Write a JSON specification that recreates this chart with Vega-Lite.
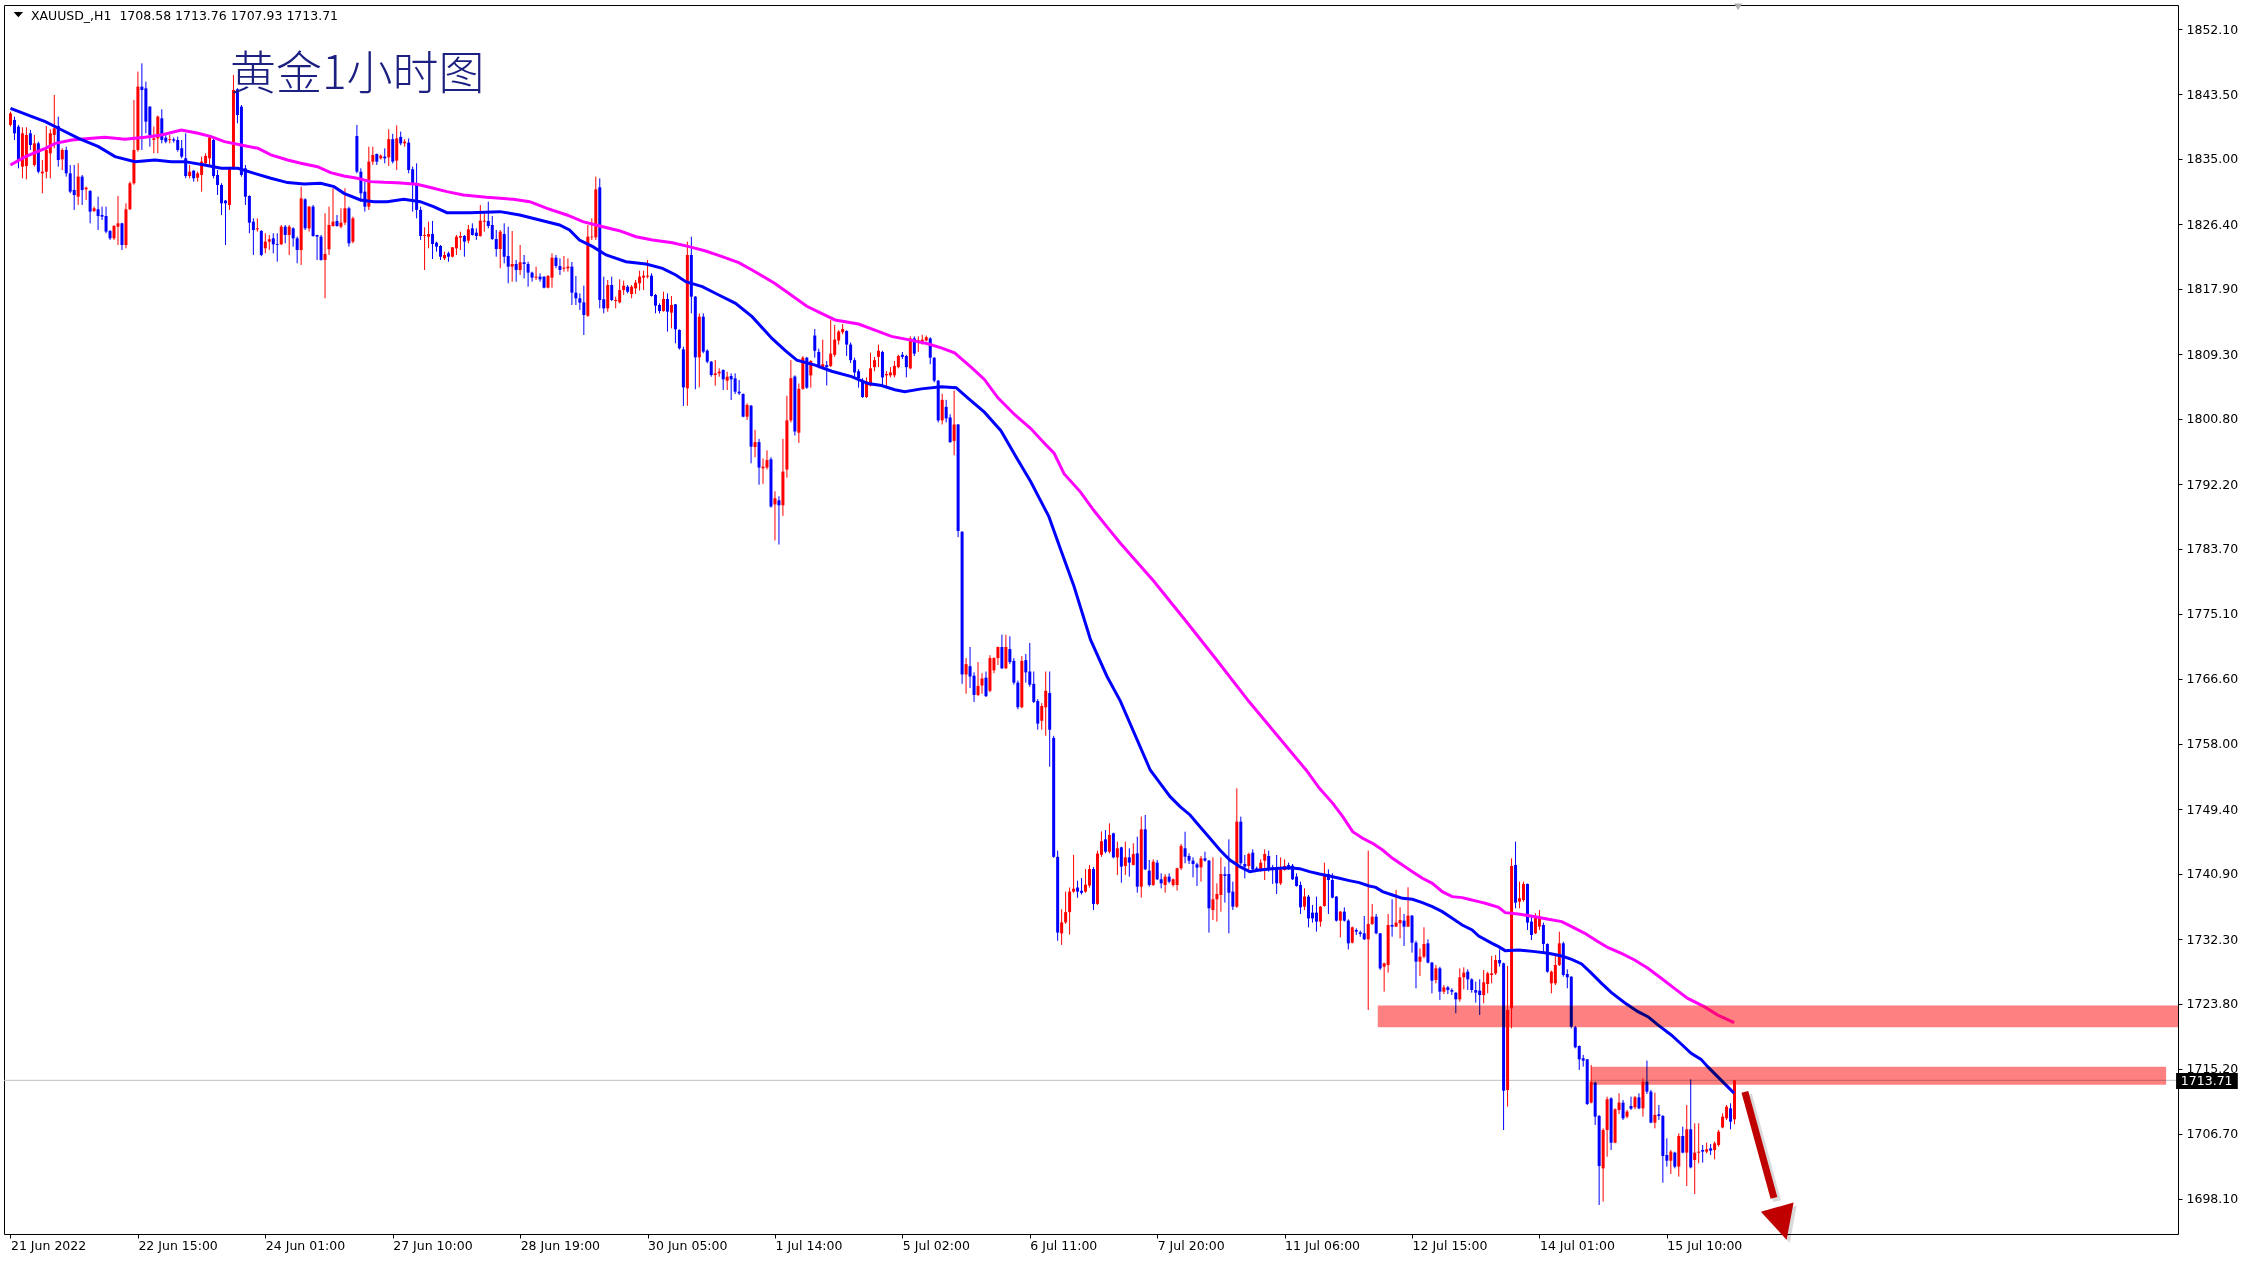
{
"$schema":"https://vega.github.io/schema/vega-lite/v6.json",
"width":2174,"height":1229,
"autosize":{"type":"none"},
"padding":{"left":4,"top":5,"right":75,"bottom":29},
"background":"#ffffff",
"config":{"view":{"stroke":"#000000","strokeWidth":1},"axis":{"grid":false,"domain":false,"labelFont":"DejaVu Sans","labelFontSize":12.5,"labelColor":"#000000","tickColor":"#000000","tickSize":4,"tickWidth":1}},
"datasets":{
"candles":[
{"i":0,"o":1839.47,"h":1841.22,"l":1839.25,"c":1841.00},
{"i":1,"o":1840.13,"h":1840.56,"l":1837.49,"c":1838.37},
{"i":2,"o":1839.25,"h":1839.47,"l":1833.76,"c":1834.86},
{"i":3,"o":1833.98,"h":1839.16,"l":1832.45,"c":1838.37},
{"i":4,"o":1834.07,"h":1839.16,"l":1832.31,"c":1838.15},
{"i":5,"o":1838.37,"h":1838.81,"l":1836.18,"c":1836.83},
{"i":6,"o":1834.20,"h":1838.15,"l":1833.98,"c":1837.05},
{"i":7,"o":1837.05,"h":1837.27,"l":1833.10,"c":1833.32},
{"i":8,"o":1833.10,"h":1834.86,"l":1830.47,"c":1833.32},
{"i":9,"o":1833.32,"h":1839.34,"l":1832.45,"c":1836.18},
{"i":10,"o":1835.74,"h":1838.90,"l":1832.45,"c":1838.37},
{"i":11,"o":1838.15,"h":1843.42,"l":1836.40,"c":1839.03},
{"i":12,"o":1839.34,"h":1840.56,"l":1833.98,"c":1834.86},
{"i":13,"o":1834.95,"h":1836.40,"l":1833.54,"c":1836.18},
{"i":14,"o":1836.18,"h":1836.61,"l":1832.67,"c":1833.10},
{"i":15,"o":1833.10,"h":1834.20,"l":1830.47,"c":1830.69},
{"i":16,"o":1830.91,"h":1834.20,"l":1828.28,"c":1830.25},
{"i":17,"o":1830.03,"h":1834.42,"l":1828.94,"c":1832.67},
{"i":18,"o":1832.67,"h":1832.89,"l":1828.94,"c":1830.91},
{"i":19,"o":1831.00,"h":1831.35,"l":1829.59,"c":1831.22},
{"i":20,"o":1830.78,"h":1830.90,"l":1826.52,"c":1828.06},
{"i":21,"o":1828.15,"h":1828.72,"l":1828.00,"c":1828.50},
{"i":22,"o":1828.37,"h":1830.03,"l":1825.64,"c":1827.49},
{"i":23,"o":1827.62,"h":1828.72,"l":1826.96,"c":1827.40},
{"i":24,"o":1827.49,"h":1828.72,"l":1825.21,"c":1825.43},
{"i":25,"o":1825.51,"h":1825.64,"l":1824.33,"c":1824.55},
{"i":26,"o":1824.55,"h":1826.30,"l":1824.33,"c":1826.17},
{"i":27,"o":1826.08,"h":1830.12,"l":1823.67,"c":1826.52},
{"i":28,"o":1826.52,"h":1826.60,"l":1823.01,"c":1823.67},
{"i":29,"o":1823.67,"h":1829.16,"l":1823.23,"c":1828.37},
{"i":30,"o":1828.37,"h":1832.01,"l":1828.28,"c":1831.79},
{"i":31,"o":1831.79,"h":1842.76,"l":1831.60,"c":1836.18},
{"i":32,"o":1836.18,"h":1846.49,"l":1835.96,"c":1844.51},
{"i":33,"o":1844.51,"h":1847.58,"l":1836.18,"c":1844.07},
{"i":34,"o":1844.29,"h":1845.17,"l":1838.37,"c":1839.91},
{"i":35,"o":1841.88,"h":1841.95,"l":1836.61,"c":1838.15},
{"i":36,"o":1837.49,"h":1839.25,"l":1835.74,"c":1837.71},
{"i":37,"o":1837.71,"h":1840.70,"l":1835.74,"c":1840.56},
{"i":38,"o":1840.34,"h":1841.53,"l":1837.05,"c":1837.49},
{"i":39,"o":1837.80,"h":1838.37,"l":1837.05,"c":1837.27},
{"i":40,"o":1837.50,"h":1838.15,"l":1837.05,"c":1837.62},
{"i":41,"o":1837.58,"h":1837.84,"l":1837.14,"c":1837.40},
{"i":42,"o":1837.49,"h":1837.93,"l":1835.96,"c":1836.18},
{"i":43,"o":1836.40,"h":1837.49,"l":1835.08,"c":1835.30},
{"i":44,"o":1835.08,"h":1838.37,"l":1832.45,"c":1832.75},
{"i":45,"o":1832.75,"h":1834.20,"l":1832.45,"c":1833.32},
{"i":46,"o":1833.46,"h":1833.50,"l":1832.01,"c":1832.45},
{"i":47,"o":1832.53,"h":1833.32,"l":1832.01,"c":1833.10},
{"i":48,"o":1832.89,"h":1835.30,"l":1830.69,"c":1834.64},
{"i":49,"o":1834.42,"h":1835.74,"l":1834.20,"c":1835.39},
{"i":50,"o":1835.08,"h":1838.15,"l":1834.20,"c":1837.84},
{"i":51,"o":1837.49,"h":1837.84,"l":1832.45,"c":1832.75},
{"i":52,"o":1832.89,"h":1833.54,"l":1830.25,"c":1831.57},
{"i":53,"o":1831.57,"h":1831.79,"l":1827.62,"c":1829.16},
{"i":54,"o":1829.51,"h":1829.59,"l":1823.67,"c":1829.16},
{"i":55,"o":1828.94,"h":1833.98,"l":1828.28,"c":1833.76},
{"i":56,"o":1833.76,"h":1846.05,"l":1833.60,"c":1844.07},
{"i":57,"o":1844.16,"h":1844.30,"l":1839.69,"c":1840.78},
{"i":58,"o":1841.88,"h":1842.10,"l":1832.67,"c":1832.89},
{"i":59,"o":1833.76,"h":1834.20,"l":1828.94,"c":1830.03},
{"i":60,"o":1830.12,"h":1830.20,"l":1825.21,"c":1826.61},
{"i":61,"o":1826.74,"h":1827.18,"l":1822.36,"c":1825.64},
{"i":62,"o":1825.73,"h":1827.18,"l":1825.43,"c":1825.86},
{"i":63,"o":1825.51,"h":1825.64,"l":1822.20,"c":1822.36},
{"i":64,"o":1823.23,"h":1825.21,"l":1822.57,"c":1824.11},
{"i":65,"o":1824.11,"h":1824.99,"l":1823.01,"c":1824.42},
{"i":66,"o":1824.55,"h":1825.21,"l":1822.57,"c":1823.76},
{"i":67,"o":1823.80,"h":1825.21,"l":1821.48,"c":1823.70},
{"i":68,"o":1823.76,"h":1826.30,"l":1823.67,"c":1826.08},
{"i":69,"o":1826.08,"h":1826.30,"l":1823.89,"c":1824.99},
{"i":70,"o":1824.99,"h":1826.30,"l":1822.36,"c":1826.08},
{"i":71,"o":1825.86,"h":1826.00,"l":1823.45,"c":1824.55},
{"i":72,"o":1824.55,"h":1824.77,"l":1821.26,"c":1823.01},
{"i":73,"o":1823.01,"h":1831.35,"l":1821.04,"c":1829.81},
{"i":74,"o":1829.68,"h":1829.81,"l":1825.64,"c":1825.86},
{"i":75,"o":1825.86,"h":1828.80,"l":1825.43,"c":1828.72},
{"i":76,"o":1828.72,"h":1828.94,"l":1824.75,"c":1824.85},
{"i":77,"o":1824.99,"h":1825.00,"l":1821.70,"c":1824.77},
{"i":78,"o":1824.77,"h":1824.99,"l":1821.61,"c":1821.70},
{"i":79,"o":1821.70,"h":1827.84,"l":1816.65,"c":1822.49},
{"i":80,"o":1823.10,"h":1828.72,"l":1822.36,"c":1826.30},
{"i":81,"o":1826.17,"h":1831.13,"l":1826.08,"c":1826.74},
{"i":82,"o":1826.83,"h":1827.62,"l":1826.08,"c":1826.17},
{"i":83,"o":1826.08,"h":1828.50,"l":1825.86,"c":1826.61},
{"i":84,"o":1826.61,"h":1831.13,"l":1826.30,"c":1828.50},
{"i":85,"o":1828.50,"h":1828.72,"l":1823.45,"c":1823.89},
{"i":86,"o":1824.11,"h":1827.40,"l":1823.89,"c":1827.18},
{"i":87,"o":1838.02,"h":1839.47,"l":1833.10,"c":1833.32},
{"i":88,"o":1833.32,"h":1833.76,"l":1829.37,"c":1830.47},
{"i":89,"o":1830.69,"h":1832.01,"l":1828.06,"c":1828.72},
{"i":90,"o":1828.72,"h":1836.61,"l":1828.28,"c":1834.64},
{"i":91,"o":1834.64,"h":1836.61,"l":1834.20,"c":1835.52},
{"i":92,"o":1835.65,"h":1835.70,"l":1834.20,"c":1834.64},
{"i":93,"o":1835.08,"h":1835.60,"l":1834.90,"c":1835.43},
{"i":94,"o":1835.30,"h":1836.39,"l":1834.42,"c":1835.08},
{"i":95,"o":1835.21,"h":1838.90,"l":1834.07,"c":1837.60},
{"i":96,"o":1837.60,"h":1838.30,"l":1834.40,"c":1834.64},
{"i":97,"o":1834.77,"h":1839.40,"l":1833.54,"c":1837.70},
{"i":98,"o":1837.90,"h":1838.60,"l":1836.80,"c":1837.05},
{"i":99,"o":1837.05,"h":1837.60,"l":1836.60,"c":1837.27},
{"i":100,"o":1837.14,"h":1837.70,"l":1833.10,"c":1833.54},
{"i":101,"o":1833.63,"h":1833.98,"l":1828.06,"c":1831.79},
{"i":102,"o":1831.79,"h":1834.42,"l":1827.18,"c":1828.28},
{"i":103,"o":1828.28,"h":1828.71,"l":1824.33,"c":1824.85},
{"i":104,"o":1824.85,"h":1825.99,"l":1820.38,"c":1824.98},
{"i":105,"o":1824.76,"h":1826.74,"l":1823.23,"c":1825.12},
{"i":106,"o":1825.12,"h":1826.83,"l":1821.82,"c":1823.80},
{"i":107,"o":1823.97,"h":1824.11,"l":1822.79,"c":1823.45},
{"i":108,"o":1823.54,"h":1823.67,"l":1821.69,"c":1822.13},
{"i":109,"o":1821.91,"h":1822.79,"l":1821.69,"c":1822.35},
{"i":110,"o":1822.57,"h":1822.79,"l":1821.47,"c":1822.13},
{"i":111,"o":1822.13,"h":1823.40,"l":1822.04,"c":1823.36},
{"i":112,"o":1823.23,"h":1824.98,"l":1822.35,"c":1824.76},
{"i":113,"o":1824.63,"h":1825.42,"l":1823.01,"c":1824.85},
{"i":114,"o":1824.85,"h":1824.98,"l":1822.13,"c":1824.11},
{"i":115,"o":1824.24,"h":1826.30,"l":1823.89,"c":1825.73},
{"i":116,"o":1825.86,"h":1826.52,"l":1824.90,"c":1824.98},
{"i":117,"o":1825.29,"h":1825.86,"l":1824.33,"c":1824.85},
{"i":118,"o":1824.85,"h":1828.93,"l":1824.76,"c":1826.87},
{"i":119,"o":1826.74,"h":1828.06,"l":1825.42,"c":1826.87},
{"i":120,"o":1826.83,"h":1829.37,"l":1825.86,"c":1826.17},
{"i":121,"o":1826.30,"h":1827.49,"l":1824.33,"c":1824.46},
{"i":122,"o":1824.46,"h":1825.64,"l":1822.13,"c":1823.14},
{"i":123,"o":1823.14,"h":1825.64,"l":1820.60,"c":1825.42},
{"i":124,"o":1825.12,"h":1826.52,"l":1821.25,"c":1822.13},
{"i":125,"o":1822.22,"h":1826.08,"l":1818.62,"c":1820.82},
{"i":126,"o":1820.82,"h":1825.51,"l":1818.84,"c":1821.17},
{"i":127,"o":1821.17,"h":1821.69,"l":1818.84,"c":1820.38},
{"i":128,"o":1820.38,"h":1823.67,"l":1819.72,"c":1821.39},
{"i":129,"o":1821.39,"h":1822.35,"l":1819.28,"c":1821.17},
{"i":130,"o":1821.17,"h":1821.47,"l":1818.18,"c":1820.03},
{"i":131,"o":1820.03,"h":1820.16,"l":1818.84,"c":1819.37},
{"i":132,"o":1819.37,"h":1820.82,"l":1819.06,"c":1819.50},
{"i":133,"o":1819.50,"h":1819.94,"l":1818.84,"c":1819.15},
{"i":134,"o":1819.50,"h":1819.55,"l":1817.96,"c":1818.05},
{"i":135,"o":1818.05,"h":1819.72,"l":1817.96,"c":1819.59},
{"i":136,"o":1819.37,"h":1822.57,"l":1818.05,"c":1822.00},
{"i":137,"o":1822.00,"h":1822.35,"l":1820.60,"c":1820.90},
{"i":138,"o":1820.90,"h":1821.91,"l":1819.72,"c":1820.38},
{"i":139,"o":1820.55,"h":1822.22,"l":1820.16,"c":1820.68},
{"i":140,"o":1820.60,"h":1821.91,"l":1820.16,"c":1820.82},
{"i":141,"o":1820.82,"h":1821.43,"l":1815.77,"c":1817.39},
{"i":142,"o":1817.39,"h":1819.59,"l":1815.77,"c":1816.65},
{"i":143,"o":1816.65,"h":1817.30,"l":1815.11,"c":1816.08},
{"i":144,"o":1816.12,"h":1818.31,"l":1811.82,"c":1814.45},
{"i":145,"o":1814.36,"h":1826.30,"l":1814.20,"c":1824.76},
{"i":146,"o":1824.68,"h":1827.18,"l":1824.33,"c":1824.76},
{"i":147,"o":1824.68,"h":1832.66,"l":1824.33,"c":1830.99},
{"i":148,"o":1831.26,"h":1832.44,"l":1815.33,"c":1816.43},
{"i":149,"o":1816.52,"h":1819.50,"l":1814.67,"c":1815.33},
{"i":150,"o":1815.33,"h":1819.06,"l":1814.89,"c":1818.40},
{"i":151,"o":1818.40,"h":1819.50,"l":1816.30,"c":1816.43},
{"i":152,"o":1816.30,"h":1816.87,"l":1815.33,"c":1816.43},
{"i":153,"o":1816.12,"h":1819.15,"l":1815.99,"c":1817.74},
{"i":154,"o":1817.74,"h":1818.97,"l":1817.09,"c":1818.31},
{"i":155,"o":1818.18,"h":1818.40,"l":1817.30,"c":1817.52},
{"i":156,"o":1817.22,"h":1818.40,"l":1816.65,"c":1818.18},
{"i":157,"o":1817.96,"h":1819.06,"l":1817.22,"c":1818.71},
{"i":158,"o":1818.62,"h":1820.29,"l":1817.66,"c":1819.50},
{"i":159,"o":1819.37,"h":1820.29,"l":1817.74,"c":1819.63},
{"i":160,"o":1819.50,"h":1821.69,"l":1819.28,"c":1819.63},
{"i":161,"o":1819.63,"h":1819.94,"l":1816.87,"c":1816.95},
{"i":162,"o":1817.09,"h":1817.22,"l":1814.67,"c":1815.68},
{"i":163,"o":1815.77,"h":1815.99,"l":1814.67,"c":1814.98},
{"i":164,"o":1814.98,"h":1817.52,"l":1814.89,"c":1816.56},
{"i":165,"o":1816.56,"h":1817.30,"l":1812.26,"c":1814.89},
{"i":166,"o":1814.76,"h":1816.95,"l":1812.70,"c":1815.77},
{"i":167,"o":1815.86,"h":1815.90,"l":1810.72,"c":1812.57},
{"i":168,"o":1812.48,"h":1812.57,"l":1809.90,"c":1810.07},
{"i":169,"o":1809.93,"h":1810.28,"l":1802.47,"c":1804.93},
{"i":170,"o":1804.80,"h":1824.11,"l":1802.50,"c":1822.35},
{"i":171,"o":1822.35,"h":1824.76,"l":1814.67,"c":1816.87},
{"i":172,"o":1816.87,"h":1816.95,"l":1804.67,"c":1808.88},
{"i":173,"o":1808.88,"h":1814.67,"l":1804.93,"c":1814.23},
{"i":174,"o":1814.23,"h":1814.67,"l":1809.41,"c":1809.63},
{"i":175,"o":1809.76,"h":1809.93,"l":1808.09,"c":1808.31},
{"i":176,"o":1808.31,"h":1808.40,"l":1806.33,"c":1806.55},
{"i":177,"o":1806.55,"h":1808.53,"l":1805.15,"c":1806.77},
{"i":178,"o":1806.77,"h":1807.43,"l":1806.33,"c":1806.99},
{"i":179,"o":1807.21,"h":1807.30,"l":1804.58,"c":1805.98},
{"i":180,"o":1805.81,"h":1806.99,"l":1804.58,"c":1806.33},
{"i":181,"o":1806.42,"h":1806.77,"l":1803.26,"c":1805.98},
{"i":182,"o":1806.11,"h":1806.77,"l":1804.05,"c":1804.36},
{"i":183,"o":1804.36,"h":1805.89,"l":1803.92,"c":1804.14},
{"i":184,"o":1804.05,"h":1804.14,"l":1800.98,"c":1801.07},
{"i":185,"o":1801.07,"h":1802.83,"l":1800.63,"c":1802.61},
{"i":186,"o":1802.52,"h":1802.61,"l":1794.93,"c":1797.12},
{"i":187,"o":1797.07,"h":1799.34,"l":1795.73,"c":1797.72},
{"i":188,"o":1797.72,"h":1798.15,"l":1792.11,"c":1794.38},
{"i":189,"o":1794.27,"h":1795.56,"l":1792.22,"c":1794.49},
{"i":190,"o":1794.38,"h":1796.64,"l":1794.11,"c":1795.35},
{"i":191,"o":1795.46,"h":1795.73,"l":1789.09,"c":1789.25},
{"i":192,"o":1789.52,"h":1791.25,"l":1784.77,"c":1790.33},
{"i":193,"o":1790.06,"h":1790.60,"l":1784.24,"c":1789.41},
{"i":194,"o":1789.41,"h":1798.15,"l":1788.01,"c":1793.84},
{"i":195,"o":1794.11,"h":1803.82,"l":1793.03,"c":1800.58},
{"i":196,"o":1800.58,"h":1808.51,"l":1800.31,"c":1806.14},
{"i":197,"o":1806.35,"h":1806.51,"l":1798.58,"c":1799.12},
{"i":198,"o":1798.96,"h":1805.43,"l":1797.61,"c":1804.73},
{"i":199,"o":1804.73,"h":1809.05,"l":1804.62,"c":1808.83},
{"i":200,"o":1808.83,"h":1808.94,"l":1804.73,"c":1804.89},
{"i":201,"o":1806.51,"h":1808.51,"l":1804.89,"c":1808.40},
{"i":202,"o":1811.75,"h":1812.61,"l":1808.83,"c":1809.75},
{"i":203,"o":1809.59,"h":1810.02,"l":1807.43,"c":1807.75},
{"i":204,"o":1807.59,"h":1811.21,"l":1807.32,"c":1807.97},
{"i":205,"o":1807.86,"h":1808.40,"l":1805.17,"c":1807.59},
{"i":206,"o":1807.75,"h":1813.79,"l":1807.59,"c":1809.37},
{"i":207,"o":1809.21,"h":1813.15,"l":1808.94,"c":1811.21},
{"i":208,"o":1811.10,"h":1812.45,"l":1810.56,"c":1812.28},
{"i":209,"o":1812.18,"h":1813.26,"l":1811.91,"c":1812.61},
{"i":210,"o":1812.34,"h":1812.45,"l":1809.05,"c":1810.56},
{"i":211,"o":1810.56,"h":1810.83,"l":1808.13,"c":1808.51},
{"i":212,"o":1808.51,"h":1808.83,"l":1806.14,"c":1806.89},
{"i":213,"o":1807.05,"h":1807.32,"l":1804.89,"c":1806.14},
{"i":214,"o":1805.81,"h":1806.14,"l":1803.55,"c":1803.65},
{"i":215,"o":1803.65,"h":1806.24,"l":1803.55,"c":1805.70},
{"i":216,"o":1805.17,"h":1809.48,"l":1805.06,"c":1807.43},
{"i":217,"o":1807.59,"h":1808.94,"l":1807.05,"c":1808.51},
{"i":218,"o":1808.94,"h":1810.56,"l":1807.59,"c":1809.75},
{"i":219,"o":1809.59,"h":1809.75,"l":1805.27,"c":1806.24},
{"i":220,"o":1806.51,"h":1807.05,"l":1805.17,"c":1806.68},
{"i":221,"o":1806.51,"h":1807.59,"l":1806.24,"c":1806.89},
{"i":222,"o":1806.51,"h":1808.40,"l":1806.24,"c":1807.75},
{"i":223,"o":1807.59,"h":1809.21,"l":1807.43,"c":1809.05},
{"i":224,"o":1809.21,"h":1809.59,"l":1808.67,"c":1808.94},
{"i":225,"o":1809.05,"h":1809.21,"l":1806.24,"c":1807.59},
{"i":226,"o":1807.43,"h":1811.64,"l":1807.32,"c":1811.37},
{"i":227,"o":1811.37,"h":1811.64,"l":1809.05,"c":1809.37},
{"i":228,"o":1810.83,"h":1811.64,"l":1809.59,"c":1811.10},
{"i":229,"o":1810.99,"h":1811.85,"l":1810.56,"c":1811.21},
{"i":230,"o":1811.10,"h":1811.75,"l":1810.99,"c":1811.53},
{"i":231,"o":1811.37,"h":1811.53,"l":1807.97,"c":1808.83},
{"i":232,"o":1808.83,"h":1808.90,"l":1805.60,"c":1805.81},
{"i":233,"o":1805.81,"h":1805.90,"l":1800.31,"c":1800.58},
{"i":234,"o":1800.58,"h":1804.09,"l":1800.04,"c":1803.28},
{"i":235,"o":1802.36,"h":1803.28,"l":1800.31,"c":1800.85},
{"i":236,"o":1800.96,"h":1801.39,"l":1797.61,"c":1797.72},
{"i":237,"o":1797.88,"h":1804.52,"l":1795.99,"c":1800.04},
{"i":238,"o":1800.04,"h":1800.10,"l":1785.21,"c":1786.02},
{"i":239,"o":1785.91,"h":1786.00,"l":1765.90,"c":1767.14},
{"i":240,"o":1767.14,"h":1769.29,"l":1764.60,"c":1768.49},
{"i":241,"o":1768.22,"h":1770.75,"l":1765.36,"c":1766.87},
{"i":242,"o":1766.97,"h":1767.41,"l":1763.52,"c":1764.44},
{"i":243,"o":1764.44,"h":1768.76,"l":1764.28,"c":1765.63},
{"i":244,"o":1765.68,"h":1767.30,"l":1764.60,"c":1766.60},
{"i":245,"o":1766.71,"h":1767.52,"l":1764.17,"c":1764.28},
{"i":246,"o":1764.98,"h":1769.67,"l":1764.80,"c":1769.29},
{"i":247,"o":1767.68,"h":1769.40,"l":1767.30,"c":1769.29},
{"i":248,"o":1769.29,"h":1770.80,"l":1768.38,"c":1770.75},
{"i":249,"o":1770.75,"h":1772.37,"l":1767.84,"c":1767.95},
{"i":250,"o":1767.95,"h":1772.37,"l":1767.84,"c":1770.75},
{"i":251,"o":1770.48,"h":1772.16,"l":1768.49,"c":1768.76},
{"i":252,"o":1768.92,"h":1769.29,"l":1765.79,"c":1766.06},
{"i":253,"o":1766.06,"h":1766.33,"l":1762.55,"c":1762.82},
{"i":254,"o":1762.82,"h":1769.56,"l":1762.70,"c":1768.92},
{"i":255,"o":1769.02,"h":1769.83,"l":1766.06,"c":1767.41},
{"i":256,"o":1767.52,"h":1771.29,"l":1765.52,"c":1765.79},
{"i":257,"o":1765.90,"h":1767.52,"l":1763.36,"c":1763.52},
{"i":258,"o":1763.63,"h":1763.90,"l":1759.86,"c":1760.67},
{"i":259,"o":1761.04,"h":1763.36,"l":1759.86,"c":1762.98},
{"i":260,"o":1762.82,"h":1767.52,"l":1759.05,"c":1764.98},
{"i":261,"o":1764.71,"h":1767.52,"l":1754.99,"c":1759.86},
{"i":262,"o":1758.78,"h":1759.05,"l":1743.00,"c":1743.13},
{"i":263,"o":1743.13,"h":1743.94,"l":1732.08,"c":1733.16},
{"i":264,"o":1733.05,"h":1736.23,"l":1731.54,"c":1734.50},
{"i":265,"o":1734.50,"h":1738.55,"l":1734.30,"c":1735.85},
{"i":266,"o":1735.85,"h":1739.09,"l":1732.89,"c":1738.55},
{"i":267,"o":1738.55,"h":1743.40,"l":1738.40,"c":1738.93},
{"i":268,"o":1739.09,"h":1740.00,"l":1737.74,"c":1738.55},
{"i":269,"o":1738.66,"h":1740.33,"l":1738.17,"c":1738.39},
{"i":270,"o":1738.55,"h":1741.52,"l":1738.39,"c":1739.47},
{"i":271,"o":1739.36,"h":1742.06,"l":1739.09,"c":1741.52},
{"i":272,"o":1741.52,"h":1741.79,"l":1736.12,"c":1736.93},
{"i":273,"o":1736.93,"h":1743.94,"l":1736.80,"c":1743.56},
{"i":274,"o":1743.40,"h":1746.48,"l":1743.13,"c":1745.18},
{"i":275,"o":1745.43,"h":1746.66,"l":1743.59,"c":1743.81},
{"i":276,"o":1743.81,"h":1747.54,"l":1743.59,"c":1746.00},
{"i":277,"o":1746.22,"h":1746.31,"l":1742.93,"c":1743.06},
{"i":278,"o":1743.06,"h":1745.13,"l":1740.74,"c":1744.25},
{"i":279,"o":1744.38,"h":1744.47,"l":1739.73,"c":1741.84},
{"i":280,"o":1741.93,"h":1745.13,"l":1740.74,"c":1743.06},
{"i":281,"o":1743.06,"h":1744.25,"l":1740.52,"c":1742.36},
{"i":282,"o":1742.06,"h":1744.91,"l":1742.00,"c":1743.50},
{"i":283,"o":1743.59,"h":1745.79,"l":1738.41,"c":1739.20},
{"i":284,"o":1739.20,"h":1748.42,"l":1737.76,"c":1746.75},
{"i":285,"o":1746.75,"h":1748.64,"l":1741.40,"c":1741.48},
{"i":286,"o":1741.31,"h":1742.71,"l":1739.20,"c":1739.42},
{"i":287,"o":1739.42,"h":1742.80,"l":1739.30,"c":1742.49},
{"i":288,"o":1742.36,"h":1742.71,"l":1740.08,"c":1740.17},
{"i":289,"o":1740.17,"h":1740.96,"l":1738.98,"c":1739.64},
{"i":290,"o":1739.42,"h":1740.87,"l":1738.41,"c":1740.52},
{"i":291,"o":1740.52,"h":1740.96,"l":1739.64,"c":1739.86},
{"i":292,"o":1739.42,"h":1740.30,"l":1739.20,"c":1740.17},
{"i":293,"o":1739.42,"h":1741.70,"l":1738.68,"c":1741.62},
{"i":294,"o":1741.62,"h":1744.82,"l":1741.40,"c":1744.56},
{"i":295,"o":1744.25,"h":1746.44,"l":1742.28,"c":1743.15},
{"i":296,"o":1743.24,"h":1743.59,"l":1742.19,"c":1742.63},
{"i":297,"o":1742.63,"h":1743.06,"l":1740.43,"c":1742.19},
{"i":298,"o":1742.14,"h":1742.36,"l":1739.29,"c":1741.71},
{"i":299,"o":1741.75,"h":1743.24,"l":1739.86,"c":1742.93},
{"i":300,"o":1742.93,"h":1743.81,"l":1742.50,"c":1742.63},
{"i":301,"o":1742.63,"h":1742.71,"l":1733.15,"c":1736.35},
{"i":302,"o":1736.13,"h":1743.06,"l":1734.81,"c":1737.54},
{"i":303,"o":1737.54,"h":1739.64,"l":1734.59,"c":1738.24},
{"i":304,"o":1738.11,"h":1743.06,"l":1735.91,"c":1740.87},
{"i":305,"o":1740.83,"h":1741.84,"l":1737.10,"c":1740.61},
{"i":306,"o":1740.87,"h":1745.43,"l":1733.06,"c":1738.41},
{"i":307,"o":1738.55,"h":1739.86,"l":1736.13,"c":1736.57},
{"i":308,"o":1736.57,"h":1752.15,"l":1736.40,"c":1747.76},
{"i":309,"o":1747.76,"h":1748.42,"l":1742.06,"c":1742.28},
{"i":310,"o":1742.19,"h":1743.37,"l":1740.30,"c":1741.84},
{"i":311,"o":1741.92,"h":1743.68,"l":1741.40,"c":1743.50},
{"i":312,"o":1743.68,"h":1744.12,"l":1741.40,"c":1741.48},
{"i":313,"o":1741.62,"h":1741.84,"l":1741.18,"c":1741.40},
{"i":314,"o":1741.48,"h":1742.80,"l":1741.18,"c":1742.36},
{"i":315,"o":1742.63,"h":1744.12,"l":1740.08,"c":1743.50},
{"i":316,"o":1743.24,"h":1743.94,"l":1741.18,"c":1741.40},
{"i":317,"o":1741.75,"h":1742.06,"l":1739.56,"c":1741.40},
{"i":318,"o":1741.62,"h":1743.37,"l":1738.24,"c":1739.64},
{"i":319,"o":1739.64,"h":1743.06,"l":1739.42,"c":1741.48},
{"i":320,"o":1741.40,"h":1742.80,"l":1741.31,"c":1741.92},
{"i":321,"o":1742.06,"h":1742.36,"l":1741.40,"c":1741.62},
{"i":322,"o":1741.97,"h":1742.19,"l":1740.08,"c":1740.17},
{"i":323,"o":1740.52,"h":1740.96,"l":1739.20,"c":1739.29},
{"i":324,"o":1739.42,"h":1739.86,"l":1735.61,"c":1736.48},
{"i":325,"o":1736.57,"h":1738.98,"l":1736.13,"c":1737.89},
{"i":326,"o":1737.89,"h":1738.11,"l":1733.85,"c":1735.03},
{"i":327,"o":1735.78,"h":1736.79,"l":1734.47,"c":1735.03},
{"i":328,"o":1735.78,"h":1737.89,"l":1733.28,"c":1734.60},
{"i":329,"o":1734.60,"h":1736.66,"l":1733.94,"c":1736.57},
{"i":330,"o":1736.66,"h":1742.36,"l":1736.57,"c":1740.87},
{"i":331,"o":1740.87,"h":1741.48,"l":1735.61,"c":1740.08},
{"i":332,"o":1740.08,"h":1740.96,"l":1737.67,"c":1737.76},
{"i":333,"o":1737.89,"h":1737.98,"l":1734.60,"c":1734.73},
{"i":334,"o":1734.73,"h":1736.00,"l":1732.53,"c":1735.91},
{"i":335,"o":1735.91,"h":1736.48,"l":1734.60,"c":1734.73},
{"i":336,"o":1734.73,"h":1734.90,"l":1730.95,"c":1731.74},
{"i":337,"o":1731.83,"h":1733.94,"l":1731.74,"c":1733.85},
{"i":338,"o":1733.50,"h":1733.72,"l":1732.84,"c":1733.28},
{"i":339,"o":1733.19,"h":1733.41,"l":1732.62,"c":1732.97},
{"i":340,"o":1733.06,"h":1735.34,"l":1732.18,"c":1732.27},
{"i":341,"o":1732.27,"h":1743.94,"l":1722.97,"c":1734.29},
{"i":342,"o":1734.29,"h":1736.92,"l":1734.16,"c":1735.25},
{"i":343,"o":1735.25,"h":1735.61,"l":1732.93,"c":1733.06},
{"i":344,"o":1733.06,"h":1733.10,"l":1728.23,"c":1728.45},
{"i":345,"o":1728.67,"h":1729.20,"l":1725.38,"c":1729.11},
{"i":346,"o":1728.89,"h":1735.61,"l":1727.88,"c":1734.16},
{"i":347,"o":1734.16,"h":1737.54,"l":1732.62,"c":1733.94},
{"i":348,"o":1733.94,"h":1738.77,"l":1733.90,"c":1734.47},
{"i":349,"o":1734.38,"h":1736.48,"l":1732.40,"c":1734.82},
{"i":350,"o":1734.73,"h":1735.61,"l":1731.39,"c":1733.94},
{"i":351,"o":1733.94,"h":1739.12,"l":1733.90,"c":1735.39},
{"i":352,"o":1735.39,"h":1735.47,"l":1730.52,"c":1731.83},
{"i":353,"o":1731.83,"h":1732.09,"l":1725.82,"c":1729.33},
{"i":354,"o":1729.33,"h":1731.08,"l":1727.44,"c":1729.99},
{"i":355,"o":1729.99,"h":1733.85,"l":1729.77,"c":1731.66},
{"i":356,"o":1731.74,"h":1732.27,"l":1729.11,"c":1729.20},
{"i":357,"o":1729.20,"h":1729.30,"l":1725.16,"c":1726.83},
{"i":358,"o":1726.92,"h":1728.89,"l":1726.48,"c":1728.45},
{"i":359,"o":1728.45,"h":1728.67,"l":1724.29,"c":1725.38},
{"i":360,"o":1725.38,"h":1726.26,"l":1725.07,"c":1725.95},
{"i":361,"o":1725.95,"h":1726.13,"l":1725.07,"c":1725.60},
{"i":362,"o":1725.60,"h":1725.82,"l":1724.94,"c":1725.38},
{"i":363,"o":1725.25,"h":1725.30,"l":1722.53,"c":1724.37},
{"i":364,"o":1724.37,"h":1728.45,"l":1724.06,"c":1727.27},
{"i":365,"o":1727.27,"h":1728.58,"l":1725.69,"c":1727.88},
{"i":366,"o":1728.01,"h":1728.32,"l":1725.60,"c":1727.00},
{"i":367,"o":1727.00,"h":1727.14,"l":1725.25,"c":1725.60},
{"i":368,"o":1725.60,"h":1726.70,"l":1723.93,"c":1725.25},
{"i":369,"o":1725.51,"h":1727.01,"l":1722.31,"c":1724.94},
{"i":370,"o":1724.94,"h":1728.23,"l":1723.85,"c":1726.61},
{"i":371,"o":1726.39,"h":1728.01,"l":1725.16,"c":1727.79},
{"i":372,"o":1727.58,"h":1730.08,"l":1726.48,"c":1727.79},
{"i":373,"o":1727.79,"h":1730.21,"l":1727.58,"c":1729.55},
{"i":374,"o":1729.55,"h":1730.95,"l":1728.67,"c":1729.11},
{"i":375,"o":1729.11,"h":1729.20,"l":1707.17,"c":1712.35},
{"i":376,"o":1712.44,"h":1728.76,"l":1710.24,"c":1722.97},
{"i":377,"o":1723.19,"h":1742.93,"l":1720.55,"c":1741.92},
{"i":378,"o":1742.06,"h":1745.13,"l":1736.35,"c":1737.10},
{"i":379,"o":1737.23,"h":1739.86,"l":1736.35,"c":1737.67},
{"i":380,"o":1737.45,"h":1739.86,"l":1737.23,"c":1739.56},
{"i":381,"o":1739.56,"h":1739.60,"l":1733.50,"c":1734.47},
{"i":382,"o":1734.60,"h":1735.25,"l":1732.18,"c":1732.84},
{"i":383,"o":1733.06,"h":1735.69,"l":1732.97,"c":1735.25},
{"i":384,"o":1733.94,"h":1736.13,"l":1733.50,"c":1735.25},
{"i":385,"o":1734.16,"h":1734.47,"l":1730.43,"c":1731.66},
{"i":386,"o":1731.66,"h":1731.74,"l":1727.88,"c":1728.01},
{"i":387,"o":1726.48,"h":1728.15,"l":1725.16,"c":1728.01},
{"i":388,"o":1726.48,"h":1730.43,"l":1726.26,"c":1728.89},
{"i":389,"o":1728.89,"h":1733.28,"l":1728.76,"c":1731.74},
{"i":390,"o":1731.74,"h":1731.96,"l":1727.36,"c":1727.58},
{"i":391,"o":1727.71,"h":1728.32,"l":1725.82,"c":1727.27},
{"i":392,"o":1727.36,"h":1727.40,"l":1720.55,"c":1720.77},
{"i":393,"o":1720.69,"h":1720.86,"l":1717.92,"c":1718.05},
{"i":394,"o":1718.23,"h":1718.30,"l":1715.07,"c":1716.47},
{"i":395,"o":1716.61,"h":1717.05,"l":1715.51,"c":1716.30},
{"i":396,"o":1716.47,"h":1716.50,"l":1710.46,"c":1710.59},
{"i":397,"o":1710.77,"h":1715.73,"l":1710.68,"c":1713.53},
{"i":398,"o":1713.40,"h":1713.53,"l":1707.83,"c":1708.93},
{"i":399,"o":1709.01,"h":1709.15,"l":1697.30,"c":1702.43},
{"i":400,"o":1702.12,"h":1707.39,"l":1697.74,"c":1707.17},
{"i":401,"o":1707.17,"h":1711.56,"l":1703.66,"c":1711.21},
{"i":402,"o":1711.34,"h":1711.47,"l":1704.54,"c":1705.50},
{"i":403,"o":1705.50,"h":1710.02,"l":1705.42,"c":1709.89},
{"i":404,"o":1709.81,"h":1712.00,"l":1709.28,"c":1710.77},
{"i":405,"o":1710.77,"h":1711.12,"l":1708.49,"c":1708.71},
{"i":406,"o":1708.93,"h":1709.81,"l":1708.71,"c":1709.59},
{"i":407,"o":1710.33,"h":1711.56,"l":1709.81,"c":1709.98},
{"i":408,"o":1710.15,"h":1711.65,"l":1709.89,"c":1711.47},
{"i":409,"o":1711.47,"h":1712.00,"l":1709.89,"c":1710.02},
{"i":410,"o":1710.02,"h":1713.97,"l":1708.93,"c":1713.53},
{"i":411,"o":1713.53,"h":1716.30,"l":1711.91,"c":1712.22},
{"i":412,"o":1712.22,"h":1712.44,"l":1708.05,"c":1708.14},
{"i":413,"o":1708.14,"h":1712.09,"l":1707.39,"c":1709.15},
{"i":414,"o":1709.24,"h":1710.46,"l":1708.49,"c":1709.02},
{"i":415,"o":1709.02,"h":1709.15,"l":1700.24,"c":1703.75},
{"i":416,"o":1703.88,"h":1706.07,"l":1702.35,"c":1703.13},
{"i":417,"o":1703.13,"h":1704.54,"l":1701.38,"c":1704.32},
{"i":418,"o":1704.19,"h":1704.32,"l":1702.12,"c":1702.35},
{"i":419,"o":1702.35,"h":1706.73,"l":1701.03,"c":1706.38},
{"i":420,"o":1706.38,"h":1707.61,"l":1704.10,"c":1704.19},
{"i":421,"o":1704.19,"h":1710.46,"l":1699.80,"c":1707.26},
{"i":422,"o":1707.26,"h":1713.84,"l":1702.12,"c":1702.26},
{"i":423,"o":1703.22,"h":1708.05,"l":1698.75,"c":1704.19},
{"i":424,"o":1704.19,"h":1708.05,"l":1702.78,"c":1704.32},
{"i":425,"o":1704.54,"h":1705.20,"l":1702.87,"c":1704.32},
{"i":426,"o":1704.32,"h":1705.51,"l":1704.10,"c":1704.63},
{"i":427,"o":1704.76,"h":1705.33,"l":1703.88,"c":1704.45},
{"i":428,"o":1704.54,"h":1705.64,"l":1703.31,"c":1705.42},
{"i":429,"o":1705.20,"h":1707.17,"l":1704.98,"c":1706.95},
{"i":430,"o":1707.52,"h":1709.37,"l":1707.39,"c":1708.93},
{"i":431,"o":1708.71,"h":1710.46,"l":1708.49,"c":1710.24},
{"i":432,"o":1710.02,"h":1710.68,"l":1707.26,"c":1708.27},
{"i":433,"o":1708.58,"h":1713.76,"l":1707.93,"c":1713.71}
],
"ma1":[
{"i":0,"v":1841.66},{"i":5.4,"v":1840.56},{"i":8.75,"v":1839.91},{"i":12.9,"v":1838.81},{"i":17.1,"v":1837.71},{"i":22.1,"v":1836.61},{"i":26.25,"v":1835.30},{"i":31.25,"v":1834.64},{"i":36.25,"v":1834.86},{"i":40.4,"v":1834.64},{"i":43.75,"v":1834.64},{"i":48.75,"v":1834.20},{"i":52.9,"v":1833.76},{"i":57.1,"v":1833.76},{"i":61.25,"v":1833.10},{"i":65.4,"v":1832.45},{"i":69.6,"v":1831.88},{"i":73.75,"v":1831.70},{"i":77.9,"v":1831.79},{"i":81.25,"v":1831.35},{"i":83.75,"v":1830.47},{"i":87.9,"v":1829.59},{"i":91.25,"v":1829.37},{"i":94.6,"v":1829.37},{"i":98.75,"v":1829.68},{"i":102.9,"v":1829.37},{"i":106.25,"v":1828.71},{"i":109.6,"v":1827.92},{"i":115.4,"v":1827.92},{"i":122.9,"v":1828.06},{"i":127.9,"v":1827.62},{"i":132.9,"v":1826.96},{"i":137.9,"v":1826.30},{"i":140.4,"v":1825.64},{"i":142.9,"v":1824.33},{"i":146.25,"v":1823.45},{"i":149.6,"v":1822.35},{"i":154.6,"v":1821.47},{"i":159.6,"v":1821.17},{"i":163.75,"v":1820.60},{"i":167.1,"v":1819.72},{"i":169.6,"v":1818.84},{"i":173.75,"v":1818.18},{"i":177.9,"v":1817.09},{"i":182.1,"v":1815.99},{"i":186.25,"v":1814.23},{"i":191.25,"v":1811.37},{"i":194.6,"v":1809.75},{"i":197.5,"v":1808.51},{"i":202.1,"v":1807.86},{"i":206.25,"v":1807.05},{"i":211.25,"v":1806.35},{"i":215.4,"v":1805.43},{"i":218.75,"v":1805.17},{"i":222.1,"v":1804.62},{"i":224.6,"v":1804.36},{"i":228.75,"v":1804.73},{"i":233.75,"v":1805.00},{"i":237.5,"v":1804.89},{"i":240.4,"v":1803.55},{"i":244.6,"v":1801.66},{"i":248.75,"v":1799.23},{"i":252.9,"v":1795.46},{"i":256.25,"v":1792.49},{"i":260.8,"v":1787.91},{"i":263.75,"v":1783.59},{"i":267.1,"v":1778.74},{"i":271.25,"v":1771.72},{"i":275.4,"v":1766.87},{"i":278.75,"v":1763.63},{"i":286.25,"v":1754.56},{"i":288.75,"v":1752.81},{"i":291.25,"v":1751.05},{"i":293.75,"v":1749.74},{"i":296.25,"v":1748.64},{"i":298.75,"v":1747.10},{"i":301.25,"v":1745.57},{"i":303.75,"v":1744.03},{"i":306.25,"v":1742.71},{"i":308.75,"v":1741.84},{"i":311.25,"v":1741.18},{"i":313.75,"v":1741.40},{"i":316.25,"v":1741.53},{"i":318.75,"v":1741.62},{"i":321.25,"v":1741.70},{"i":323.75,"v":1741.57},{"i":326.25,"v":1741.18},{"i":328.75,"v":1740.87},{"i":331.25,"v":1740.61},{"i":333.75,"v":1740.30},{"i":336.25,"v":1740.00},{"i":338.75,"v":1739.73},{"i":341.25,"v":1739.29},{"i":342.9,"v":1739.11},{"i":344.6,"v":1738.55},{"i":347.1,"v":1738.11},{"i":349.6,"v":1737.67},{"i":352.1,"v":1737.54},{"i":354.6,"v":1737.10},{"i":357.1,"v":1736.57},{"i":359.6,"v":1735.91},{"i":362.1,"v":1735.03},{"i":364.6,"v":1734.16},{"i":367.1,"v":1733.50},{"i":368.75,"v":1732.70},{"i":372.1,"v":1731.74},{"i":373.75,"v":1731.31},{"i":375.4,"v":1730.78},{"i":378.75,"v":1730.87},{"i":382.9,"v":1730.65},{"i":386.25,"v":1730.43},{"i":389.6,"v":1730.08},{"i":392.1,"v":1729.64},{"i":394.6,"v":1729.02},{"i":397.1,"v":1727.79},{"i":399.6,"v":1726.48},{"i":402.1,"v":1725.25},{"i":405.4,"v":1723.93},{"i":408.75,"v":1722.75},{"i":411.25,"v":1722.09},{"i":413.75,"v":1721.00},{"i":417.1,"v":1719.68},{"i":419.6,"v":1718.49},{"i":422.1,"v":1717.26},{"i":424.6,"v":1716.47},{"i":426.25,"v":1715.51},{"i":428.75,"v":1714.19},{"i":431.25,"v":1712.88},{"i":432.9,"v":1712.00}
],
"ma2":[
{"i":0,"v":1834.20},{"i":3.75,"v":1835.30},{"i":8.75,"v":1836.40},{"i":11.25,"v":1837.05},{"i":15.4,"v":1837.49},{"i":20.4,"v":1837.71},{"i":23.75,"v":1837.84},{"i":28.75,"v":1837.58},{"i":33.75,"v":1837.84},{"i":37.9,"v":1838.15},{"i":42.9,"v":1838.81},{"i":47.1,"v":1838.37},{"i":50.4,"v":1837.93},{"i":53.75,"v":1837.27},{"i":57.9,"v":1836.83},{"i":62.1,"v":1836.40},{"i":65.4,"v":1835.52},{"i":69.6,"v":1834.86},{"i":72.9,"v":1834.42},{"i":77.1,"v":1833.98},{"i":80.4,"v":1833.19},{"i":83.75,"v":1832.75},{"i":87.1,"v":1832.45},{"i":90.4,"v":1832.01},{"i":93.75,"v":1831.92},{"i":97.1,"v":1831.87},{"i":102.1,"v":1831.65},{"i":106.25,"v":1831.13},{"i":109.6,"v":1830.69},{"i":113.75,"v":1830.25},{"i":119.6,"v":1829.94},{"i":126.25,"v":1829.68},{"i":130.4,"v":1829.37},{"i":134.75,"v":1828.49},{"i":139.75,"v":1827.62},{"i":143.75,"v":1826.74},{"i":148,"v":1826.17},{"i":152.9,"v":1825.55},{"i":157.1,"v":1824.76},{"i":161.25,"v":1824.33},{"i":166.25,"v":1823.97},{"i":170.4,"v":1823.45},{"i":174.6,"v":1822.88},{"i":178.75,"v":1822.13},{"i":182.9,"v":1821.34},{"i":186.25,"v":1820.38},{"i":192,"v":1818.6},{"i":200,"v":1815.6},{"i":207.1,"v":1813.80},{"i":213,"v":1813.26},{"i":217.1,"v":1812.45},{"i":221.25,"v":1811.64},{"i":225.4,"v":1811.21},{"i":230.4,"v":1810.67},{"i":233.75,"v":1810.13},{"i":237.1,"v":1809.48},{"i":241.25,"v":1807.59},{"i":244.6,"v":1805.97},{"i":248,"v":1803.55},{"i":252.1,"v":1801.39},{"i":256.25,"v":1799.50},{"i":259.6,"v":1797.61},{"i":262.1,"v":1796.26},{"i":264.6,"v":1793.57},{"i":268.75,"v":1791.14},{"i":272.1,"v":1788.71},{"i":275.4,"v":1786.56},{"i":278.75,"v":1784.40},{"i":287,"v":1779.5},{"i":295,"v":1774.3},{"i":303,"v":1769.0},{"i":311,"v":1763.6},{"i":318,"v":1759.2},{"i":325.4,"v":1754.56},{"i":328.75,"v":1752.15},{"i":332.1,"v":1750.17},{"i":334.6,"v":1748.42},{"i":337.1,"v":1746.44},{"i":339.6,"v":1745.57},{"i":342.1,"v":1744.91},{"i":344.6,"v":1744.03},{"i":347.1,"v":1742.93},{"i":349.6,"v":1742.06},{"i":352.1,"v":1741.18},{"i":354.6,"v":1740.30},{"i":357.1,"v":1739.64},{"i":359.6,"v":1738.55},{"i":362.1,"v":1737.89},{"i":364.6,"v":1737.76},{"i":366.25,"v":1737.54},{"i":368.75,"v":1737.23},{"i":370.4,"v":1737.01},{"i":373.75,"v":1736.48},{"i":375.4,"v":1735.78},{"i":378.75,"v":1735.61},{"i":382.9,"v":1735.25},{"i":386.25,"v":1734.90},{"i":389.6,"v":1734.60},{"i":392.1,"v":1733.94},{"i":395.4,"v":1733.06},{"i":398.75,"v":1731.96},{"i":401.25,"v":1731.17},{"i":404.6,"v":1730.43},{"i":407.9,"v":1729.55},{"i":411.25,"v":1728.45},{"i":414.6,"v":1727.14},{"i":417.9,"v":1725.82},{"i":421.25,"v":1724.50},{"i":425.4,"v":1723.41},{"i":428.75,"v":1722.31},{"i":432.9,"v":1721.30}
],
"bands":[
{"x1":343.4,"x2":544.5,"y1":1720.7,"y2":1723.55},
{"x1":397.0,"x2":541.4,"y1":1713.12,"y2":1715.5}
]
},
"layer":[
{"data":{"values":[{}]},"mark":{"type":"rule","color":"#c0c0c0","strokeWidth":1},"encoding":{"y":{"datum":1713.71}}},
{"data":{"name":"candles"},"mark":{"type":"rule","strokeWidth":1},
 "encoding":{
  "x":{"field":"i","type":"quantitative","title":null,"scale":{"domain":[-0.375,543.125],"nice":false,"zero":false},
       "axis":{"orient":"bottom","title":null,"values":[0,32,64,96,128,160,192,224,256,288,320,352,384,416],"labelExpr":"['21 Jun 2022','22 Jun 15:00','24 Jun 01:00','27 Jun 10:00','28 Jun 19:00','30 Jun 05:00','1 Jul 14:00','5 Jul 02:00','6 Jul 11:00','7 Jul 20:00','11 Jul 06:00','12 Jul 15:00','14 Jul 01:00','15 Jul 10:00'][round(datum.value/32)]","labelAlign":"left","labelBaseline":"top","labelPadding":1,"labelOverlap":false,"labelBound":false,"labelFlush":false}},
  "y":{"field":"l","type":"quantitative","title":null,"scale":{"domain":[1693.48,1855.26],"nice":false,"zero":false},
       "axis":{"orient":"right","title":null,"values":[1852.1,1843.5,1835,1826.4,1817.9,1809.3,1800.8,1792.2,1783.7,1775.1,1766.6,1758,1749.4,1740.9,1732.3,1723.8,1715.2,1706.7,1698.1],"format":".2f","labelPadding":4,"labelOverlap":false,"labelBound":false,"labelFlush":false}},
  "y2":{"field":"h"},
  "color":{"condition":{"test":"datum.c >= datum.o","value":"#ff0000"},"value":"#0000ff"}
 }},
{"data":{"name":"candles"},"mark":{"type":"bar","size":3,"orient":"vertical"},
 "encoding":{
  "x":{"field":"i","type":"quantitative","title":null},
  "y":{"field":"o","type":"quantitative","title":null},
  "y2":{"field":"c"},
  "color":{"condition":{"test":"datum.c >= datum.o","value":"#ff0000"},"value":"#0000ff"}
 }},
{"data":{"name":"ma2"},"mark":{"type":"line","color":"#ff00ff","strokeWidth":3},
 "encoding":{"x":{"field":"i","type":"quantitative","title":null},"y":{"field":"v","type":"quantitative","title":null}}},
{"data":{"name":"ma1"},"mark":{"type":"line","color":"#0000ff","strokeWidth":3},
 "encoding":{"x":{"field":"i","type":"quantitative","title":null},"y":{"field":"v","type":"quantitative","title":null}}},
{"data":{"name":"bands"},"mark":{"type":"rect","color":"#ff8080","blend":"multiply"},
 "encoding":{"x":{"field":"x1","type":"quantitative","title":null},"x2":{"field":"x2"},"y":{"field":"y1","type":"quantitative","title":null},"y2":{"field":"y2"}}},
{"data":{"values":[{}]},"mark":{"type":"rule","color":"#000000","opacity":0.15,"strokeWidth":8},
 "encoding":{"x":{"datum":436.4},"y":{"datum":1711.8},"x2":{"datum":443.7},"y2":{"datum":1697.8}}},
{"data":{"values":[{}]},"mark":{"type":"point","shape":"M-1,-1L1,-1L0,1Z","filled":true,"color":"#000000","opacity":0.15,"size":1156,"angle":344},
 "encoding":{"x":{"datum":445.7},"y":{"datum":1694.45}}},
{"data":{"values":[{}]},"mark":{"type":"rule","color":"#c00000","strokeWidth":7},
 "encoding":{"x":{"datum":435.6},"y":{"datum":1712.18},"x2":{"datum":442.9},"y2":{"datum":1698.23}}},
{"data":{"values":[{}]},"mark":{"type":"point","shape":"M-1,-1L1,-1L0,1Z","filled":true,"color":"#c00000","opacity":1,"size":1156,"angle":344},
 "encoding":{"x":{"datum":444.9},"y":{"datum":1694.87}}},
{"data":{"values":[{}]},"mark":{"type":"rect","color":"#000000"},
 "encoding":{"x":{"datum":543.9},"x2":{"datum":559.4},"y":{"datum":1714.68},"y2":{"datum":1712.57}}},
{"data":{"values":[{}]},"mark":{"type":"text","text":"1713.71","font":"DejaVu Sans","fontSize":12.5,"color":"#ffffff","align":"left","baseline":"middle"},
 "encoding":{"x":{"datum":545.1},"y":{"datum":1713.63}}},
{"data":{"values":[{}]},"mark":{"type":"point","shape":"M-1,-0.55L1,-0.55L0,0.55Z","filled":true,"color":"#000000","opacity":1,"size":90},
 "encoding":{"x":{"datum":1.98},"y":{"datum":1853.98}}},
{"data":{"values":[{}]},"mark":{"type":"text","text":"XAUUSD_,H1\u00a0 1708.58 1713.76 1707.93 1713.71","font":"DejaVu Sans","fontSize":12.5,"color":"#000000","align":"left","baseline":"middle"},
 "encoding":{"x":{"datum":5.125},"y":{"datum":1853.78}}},
{"data":{"values":[{}]},"mark":{"type":"text","text":"黄金1小时图","font":"Noto Sans CJK SC","fontSize":46,"fontWeight":300,"color":"#1c2080","align":"left","baseline":"middle"},
 "encoding":{"x":{"datum":55.1},"y":{"datum":1846.05}}},
{"data":{"values":[{}]},"mark":{"type":"point","shape":"triangle-down","filled":true,"color":"#b0b0b0","opacity":1,"size":60},
 "encoding":{"x":{"datum":433.9},"y":{"datum":1855.0}}}
]
}
